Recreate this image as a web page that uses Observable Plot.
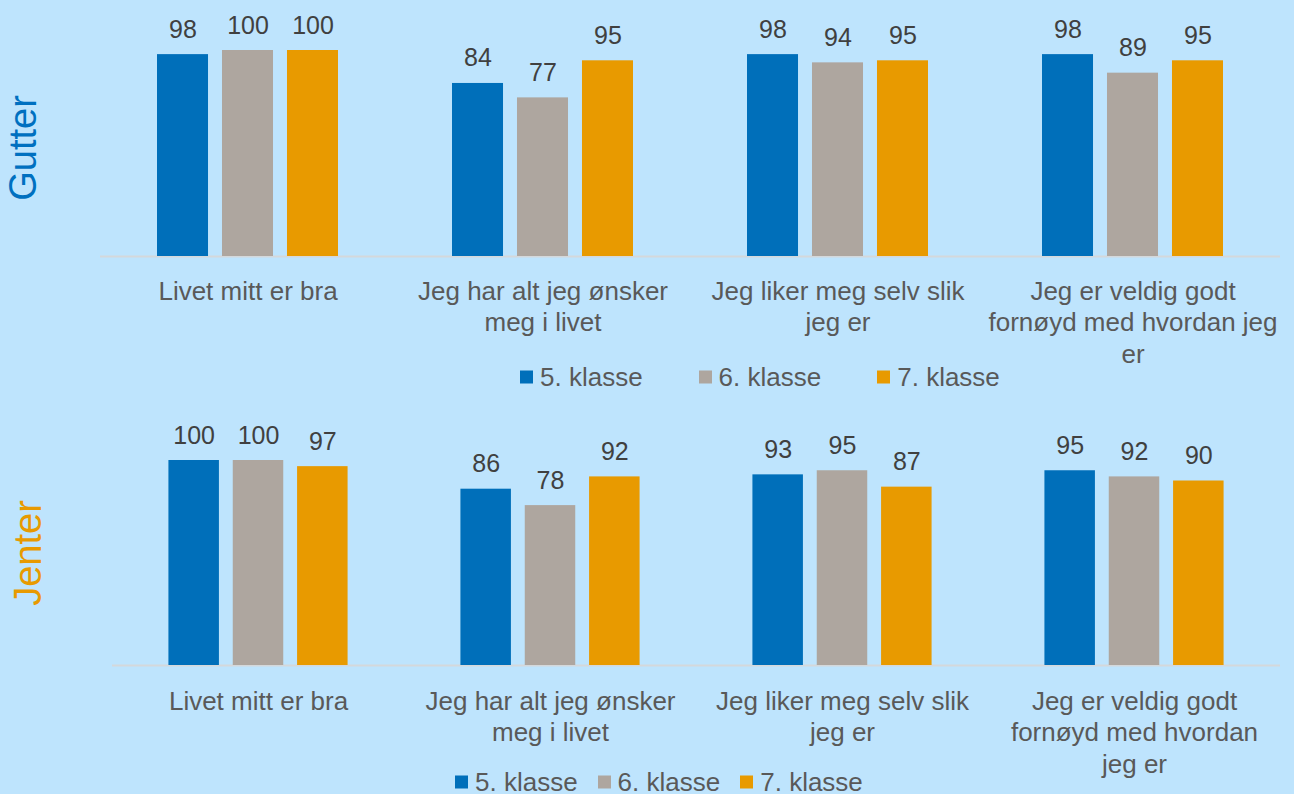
<!DOCTYPE html>
<html>
<head>
<meta charset="utf-8">
<script src="https://cdn.jsdelivr.net/npm/d3@7"></script>
<script src="https://cdn.jsdelivr.net/npm/@observablehq/plot@0.6"></script>
<style>
  html, body { margin: 0; padding: 0; }
  body { width: 1294px; height: 794px; overflow: hidden; background: #bee4fd; font-family: "Liberation Sans", Arial, sans-serif; }
  #root { position: relative; width: 1294px; height: 794px; }
  .panel { position: absolute; left: 0; }
  .side { position: absolute; font-size: 38px; transform: translate(-50%, -50%) rotate(-90deg); white-space: nowrap; }
  .legend { position: absolute; display: flex; align-items: center; font-size: 26px; color: #595959; white-space: nowrap; transform: translateY(-50%); }
  .legend .item { display: flex; align-items: center; }
  .legend .sw { width: 13px; height: 13px; margin-right: 7px; }
</style>
</head>
<body>
<div id="root"></div>
<script>
const classes = ["5. klasse", "6. klasse", "7. klasse"];
const classColors = ["#006fba", "#aea69f", "#e89a00"];
const categories = [
  "Livet mitt er bra",
  "Jeg har alt jeg ønsker meg i livet",
  "Jeg liker meg selv slik jeg er",
  "Jeg er veldig godt fornøyd med hvordan jeg er"
];
const gutterTickLabels = [
  "Livet mitt er bra",
  "Jeg har alt jeg ønsker\nmeg i livet",
  "Jeg liker meg selv slik\njeg er",
  "Jeg er veldig godt\nfornøyd med hvordan jeg\ner"
];
const jenterTickLabels = [
  "Livet mitt er bra",
  "Jeg har alt jeg ønsker\nmeg i livet",
  "Jeg liker meg selv slik\njeg er",
  "Jeg er veldig godt\nfornøyd med hvordan\njeg er"
];
const gutter5 = [98, 84, 98, 98];
const gutter6 = [100, 77, 94, 89];
const gutter7 = [100, 95, 95, 95];
const jenter5 = [100, 86, 93, 95];
const jenter6 = [100, 78, 95, 92];
const jenter7 = [97, 92, 87, 90];

function rows(series) {
  const out = [];
  categories.forEach((cat, i) => {
    classes.forEach((cls, j) => out.push({cat, cls, value: series[j][i]}));
  });
  return out;
}

function panel(data, tickLabels, opts) {
  const labelMap = new Map(categories.map((c, i) => [c, tickLabels[i]]));
  return Plot.plot({
    width: 1294,
    height: opts.height,
    marginLeft: opts.marginLeft,
    marginRight: 14,
    marginTop: opts.marginTop,
    marginBottom: opts.marginBottom,
    style: {background: "transparent", fontFamily: "'Liberation Sans', Arial, sans-serif", overflow: "visible"},
    fx: {domain: categories, padding: 0, label: null},
    x: {domain: classes, paddingInner: 0.215, paddingOuter: 0.877, axis: null, round: false},
    y: {domain: [0, 100], axis: null},
    color: {domain: classes, range: classColors},
    marks: [
      Plot.ruleY([0], {stroke: "#d4d8db", strokeWidth: 2}),
      Plot.barY(data, {fx: "cat", x: "cls", y: "value", fill: "cls"}),
      Plot.text(data, {fx: "cat", x: "cls", y: "value", text: d => String(d.value), dy: -17, lineAnchor: "bottom", fontSize: 25, fill: "#404040"}),
      Plot.axisFx({anchor: "bottom", tickSize: 0, tickPadding: opts.tickPadding, fontSize: 26, lineHeight: 1.21, color: "#595959", label: null, tickFormat: d => labelMap.get(d)})
    ]
  });
}

const root = document.getElementById("root");

function place(el, top) {
  el.classList.add("panel");
  el.style.top = top + "px";
  root.appendChild(el);
}

place(panel(rows([gutter5, gutter6, gutter7]), gutterTickLabels, {height: 365, marginTop: 50, marginBottom: 109, marginLeft: 100, tickPadding: 21}), 0);
place(panel(rows([jenter5, jenter6, jenter7]), jenterTickLabels, {height: 380, marginTop: 65, marginBottom: 110, marginLeft: 112, tickPadding: 22}), 395);

function side(text, color, x, y) {
  const d = document.createElement("div");
  d.className = "side";
  d.textContent = text;
  d.style.color = color;
  d.style.left = x + "px";
  d.style.top = y + "px";
  root.appendChild(d);
}
side("Gutter", "#0070c0", 23, 148);
side("Jenter", "#e89a00", 28, 553);

function legend(left, top, gap) {
  const l = document.createElement("div");
  l.className = "legend";
  l.style.left = left + "px";
  l.style.top = top + "px";
  classes.forEach((c, i) => {
    const it = document.createElement("div");
    it.className = "item";
    if (i > 0) it.style.marginLeft = gap + "px";
    const sw = document.createElement("span");
    sw.className = "sw";
    sw.style.background = classColors[i];
    const t = document.createElement("span");
    t.textContent = c;
    it.appendChild(sw);
    it.appendChild(t);
    l.appendChild(it);
  });
  root.appendChild(l);
}
legend(520, 377, 56);
legend(455, 782, 20);
</script>
</body>
</html>
